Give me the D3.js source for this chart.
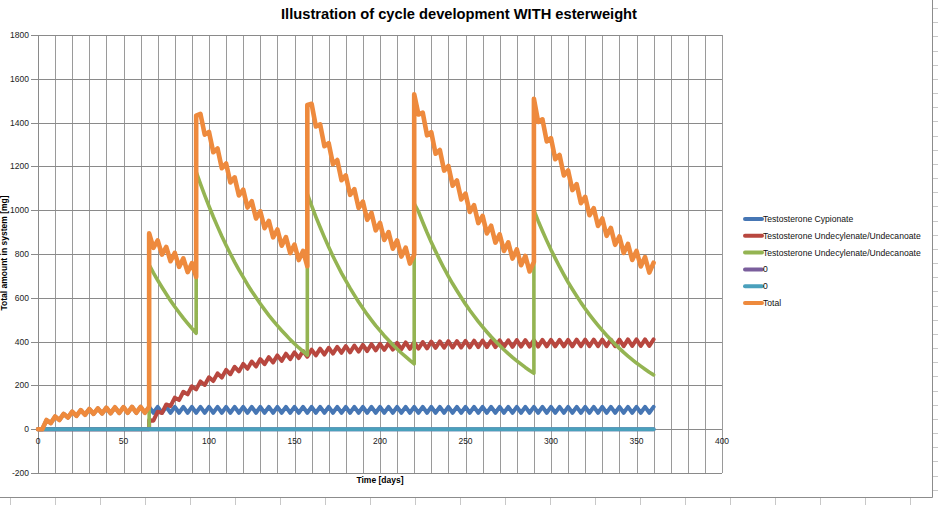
<!DOCTYPE html>
<html><head><meta charset="utf-8">
<script src="https://cdn.jsdelivr.net/npm/d3@7"></script>
<style>body{margin:0;background:#fff}svg{display:block}</style>
</head><body>
<svg id="c" width="938" height="505"></svg>
<script>
// ---------- DATA ----------
const chartTitle = "Illustration of cycle development WITH esterweight";
const xTitle = "Time [days]";
const yTitle = "Total amount in system [mg]";
const xTicks = [0, 50, 100, 150, 200, 250, 300, 350, 400];
const yTicks = [-200, 0, 200, 400, 600, 800, 1000, 1200, 1400, 1600, 1800];

const days = [
  0, 2.5, 5, 7.5,
  10, 12.5, 15, 17.5,
  20, 22.5, 25, 27.5,
  30, 32.5, 35, 37.5,
  40, 42.5, 45, 47.5,
  50, 52.5, 55, 57.5,
  60, 62.5, 65, 65, 67.5,
  70, 72.5, 75, 77.5,
  80, 82.5, 85, 87.5,
  90, 92.5, 92.5, 95, 97.5,
  100, 102.5, 105, 107.5,
  110, 112.5, 115, 117.5,
  120, 122.5, 125, 127.5,
  130, 132.5, 135, 137.5,
  140, 142.5, 145, 147.5,
  150, 152.5, 155, 157.5, 157.5,
  160, 162.5, 165, 167.5,
  170, 172.5, 175, 177.5,
  180, 182.5, 185, 187.5,
  190, 192.5, 195, 197.5,
  200, 202.5, 205, 207.5,
  210, 212.5, 215, 217.5,
  220, 220, 222.5, 225, 227.5,
  230, 232.5, 235, 237.5,
  240, 242.5, 245, 247.5,
  250, 252.5, 255, 257.5,
  260, 262.5, 265, 267.5,
  270, 272.5, 275, 277.5,
  280, 282.5, 285, 287.5,
  290, 290, 292.5, 295, 297.5,
  300, 302.5, 305, 307.5,
  310, 312.5, 315, 317.5,
  320, 322.5, 325, 327.5,
  330, 332.5, 335, 337.5,
  340, 342.5, 345, 347.5,
  350, 352.5, 355, 357.5,
  360
];

const cypionate = [
  0, 0, 42, 28,
  58, 42, 70, 53,
  80, 61, 87, 66,
  92, 70, 95, 72,
  98, 73, 100, 74,
  101, 75, 102, 75,
  102, 75, 102, 102, 75,
  102, 75, 102, 75,
  102, 75, 102, 75,
  102, 75, 75, 102, 75,
  102, 75, 102, 75,
  102, 75, 102, 75,
  102, 75, 102, 75,
  102, 75, 102, 75,
  102, 75, 102, 75,
  102, 75, 102, 75, 75,
  102, 75, 102, 75,
  102, 75, 102, 75,
  102, 75, 102, 75,
  102, 75, 102, 75,
  102, 75, 102, 75,
  102, 75, 102, 75,
  102, 102, 75, 102, 75,
  102, 75, 102, 75,
  102, 75, 102, 75,
  102, 75, 102, 75,
  102, 75, 102, 75,
  102, 75, 102, 75,
  102, 75, 102, 75,
  102, 102, 75, 102, 75,
  102, 75, 102, 75,
  102, 75, 102, 75,
  102, 75, 102, 75,
  102, 75, 102, 75,
  102, 75, 102, 75,
  102, 75, 102, 75,
  102
];

const undecylenateA = [
  0, 0, 0, 0,
  0, 0, 0, 0,
  0, 0, 0, 0,
  0, 0, 0, 0,
  0, 0, 0, 0,
  0, 0, 0, 0,
  0, 0, 0, 42, 39,
  80, 74, 113, 105,
  144, 133, 171, 159,
  196, 182, 182, 218, 202,
  237, 220, 255, 236,
  271, 251, 285, 264,
  298, 276, 309, 286,
  320, 297, 329, 305,
  337, 312, 345, 320,
  351, 325, 357, 331, 331,
  363, 337, 368, 341,
  372, 345, 376, 349,
  379, 351, 382, 354,
  385, 357, 388, 360,
  390, 362, 392, 363,
  394, 365, 396, 367,
  397, 397, 368, 398, 369,
  400, 371, 401, 372,
  402, 373, 402, 373,
  403, 374, 404, 375,
  405, 375, 405, 375,
  406, 376, 406, 376,
  407, 377, 407, 377,
  407, 407, 377, 408, 378,
  408, 378, 408, 378,
  408, 378, 409, 379,
  409, 379, 409, 379,
  409, 379, 409, 379,
  409, 379, 410, 380,
  410, 380, 410, 380,
  410
];

const undecylenateB = [
  0, 0, 0, 0,
  0, 0, 0, 0,
  0, 0, 0, 0,
  0, 0, 0, 0,
  0, 0, 0, 0,
  0, 0, 0, 0,
  0, 0, 0, 750, 714,
  680, 648, 617, 587,
  559, 533, 507, 483,
  460, 438, 1175, 1120, 1068,
  1018, 970, 925, 881,
  840, 801, 763, 728,
  694, 661, 630, 601,
  573, 546, 520, 496,
  473, 451, 430, 409,
  390, 372, 355, 338, 1075,
  1021, 970, 922, 876,
  832, 790, 751, 713,
  678, 644, 612, 581,
  552, 524, 498, 473,
  450, 427, 406, 386,
  366, 348, 331, 314,
  298, 1030, 994, 945, 898,
  854, 812, 772, 734,
  698, 664, 632, 601,
  571, 543, 517, 491,
  467, 444, 422, 402,
  382, 363, 345, 328,
  312, 297, 282, 268,
  255, 1000, 951, 905, 861,
  819, 780, 742, 706,
  671, 639, 608, 578,
  550, 523, 498, 474,
  451, 429, 408, 388,
  369, 351, 334, 318,
  302, 288, 274, 260,
  248
];

const zeroDays = [0, 360];
const zeroSeriesA = [0, 0];
const zeroSeriesB = [0, 0];

const seriesNames = [
  "Testosterone Cypionate",
  "Testosterone Undecylenate/Undecanoate",
  "Testosterone Undecylenate/Undecanoate",
  "0",
  "0",
  "Total"
];
const seriesColors = ["#4676B4", "#B8473F", "#94B452", "#7A5E9C", "#4AA0BC", "#EE8A3D"];

// Total = sum of the component series at each day
const total = days.map((d, i) => cypionate[i] + undecylenateA[i] + undecylenateB[i]);

// ---------- CHART ----------
const svg = d3.select("#c");
const W = 938, H = 505;
svg.append("rect").attr("width", W).attr("height", H).attr("fill", "#fff");

// worksheet cell lines visible outside the chart object
const sheet = svg.append("g").attr("stroke", "#c8c8c8").attr("stroke-width", 1);
d3.range(10, W, 45).forEach(xv => {
  sheet.append("line").attr("x1", xv + 0.5).attr("x2", xv + 0.5).attr("y1", 498).attr("y2", H);
});
d3.range(8, 498, 14.17).forEach(yv => {
  sheet.append("line").attr("x1", 933).attr("x2", W).attr("y1", Math.round(yv) + 0.5).attr("y2", Math.round(yv) + 0.5);
});
// chart object border
svg.append("line").attr("x1", 932.5).attr("x2", 932.5).attr("y1", 0).attr("y2", 497.5).attr("stroke", "#8c8c8c");
svg.append("line").attr("x1", 0).attr("x2", 932.5).attr("y1", 497.5).attr("y2", 497.5).attr("stroke", "#8c8c8c");

const x = d3.scaleLinear().domain([0, 400]).range([38, 722]);
const y = d3.scaleLinear().domain([-200, 1800]).range([473, 35]);

const gridColor = "#8a8a8a";
const g = svg.append("g");
// vertical grid (every 10 days)
g.selectAll("line.vg").data(d3.range(0, 401, 10)).join("line")
  .attr("x1", d => Math.round(x(d)) + 0.5).attr("x2", d => Math.round(x(d)) + 0.5)
  .attr("y1", y(1800)).attr("y2", y(-200))
  .attr("stroke", "#9a9a9a").attr("stroke-width", 1);
// horizontal grid
g.selectAll("line.hg").data(yTicks).join("line")
  .attr("x1", x(0) - 7).attr("x2", x(400))
  .attr("y1", d => Math.round(y(d)) + 0.5).attr("y2", d => Math.round(y(d)) + 0.5)
  .attr("stroke", gridColor).attr("stroke-width", 1);
// y axis line
g.append("line").attr("x1", Math.round(x(0)) + 0.5).attr("x2", Math.round(x(0)) + 0.5)
  .attr("y1", y(1800)).attr("y2", y(-200)).attr("stroke", gridColor);

const font = "'Liberation Sans', Arial, sans-serif";
// y tick labels
g.selectAll("text.yl").data(yTicks).join("text")
  .attr("x", x(0) - 9).attr("y", d => y(d)).attr("dy", "0.35em")
  .attr("text-anchor", "end").attr("font-family", font).attr("font-size", 8.5)
  .attr("fill", "#222").text(d => d);
// x tick labels
g.selectAll("text.xl").data(xTicks).join("text")
  .attr("x", d => x(d)).attr("y", y(0) + 15)
  .attr("text-anchor", "middle").attr("font-family", font).attr("font-size", 8.5)
  .attr("fill", "#222").text(d => d);

// titles
svg.append("text").attr("x", 459).attr("y", 19).attr("text-anchor", "middle")
  .attr("font-family", font).attr("font-weight", "bold").attr("font-size", 15)
  .attr("textLength", 356).attr("lengthAdjust", "spacingAndGlyphs")
  .attr("fill", "#000").text(chartTitle);
svg.append("text").attr("x", 380).attr("y", 483).attr("text-anchor", "middle")
  .attr("font-family", font).attr("font-weight", "bold").attr("font-size", 8.5)
  .attr("fill", "#000").text(xTitle);
svg.append("text").attr("transform", "translate(7,253) rotate(-90)").attr("text-anchor", "middle")
  .attr("font-family", font).attr("font-weight", "bold").attr("font-size", 8.5)
  .attr("fill", "#000").text(yTitle);

// series
const line = d3.line().x(d => x(d[0])).y(d => y(d[1]));
const seriesData = [
  days.map((d, i) => [d, cypionate[i]]),
  days.map((d, i) => [d, undecylenateA[i]]),
  days.map((d, i) => [d, undecylenateB[i]]),
  zeroDays.map((d, i) => [d, zeroSeriesA[i]]),
  zeroDays.map((d, i) => [d, zeroSeriesB[i]]),
  days.map((d, i) => [d, total[i]])
];
const widths = [4, 4, 3.6, 4, 4, 4.6];
seriesData.forEach((s, i) => {
  svg.append("path").attr("d", line(s)).attr("fill", "none")
    .attr("stroke", seriesColors[i]).attr("stroke-width", widths[i])
    .attr("stroke-linejoin", "round").attr("stroke-linecap", "round");
});

// legend
const lg = svg.append("g");
const rowY = [219, 235.8, 252.6, 269.4, 286.2, 303];
seriesNames.forEach((n, i) => {
  lg.append("line").attr("x1", 745).attr("x2", 762).attr("y1", rowY[i]).attr("y2", rowY[i])
    .attr("stroke", seriesColors[i]).attr("stroke-width", 4).attr("stroke-linecap", "round");
  lg.append("text").attr("x", 763).attr("y", rowY[i]).attr("dy", "0.35em")
    .attr("font-family", font).attr("font-size", 8.6).attr("fill", "#111").text(n);
});
</script>
</body></html>
